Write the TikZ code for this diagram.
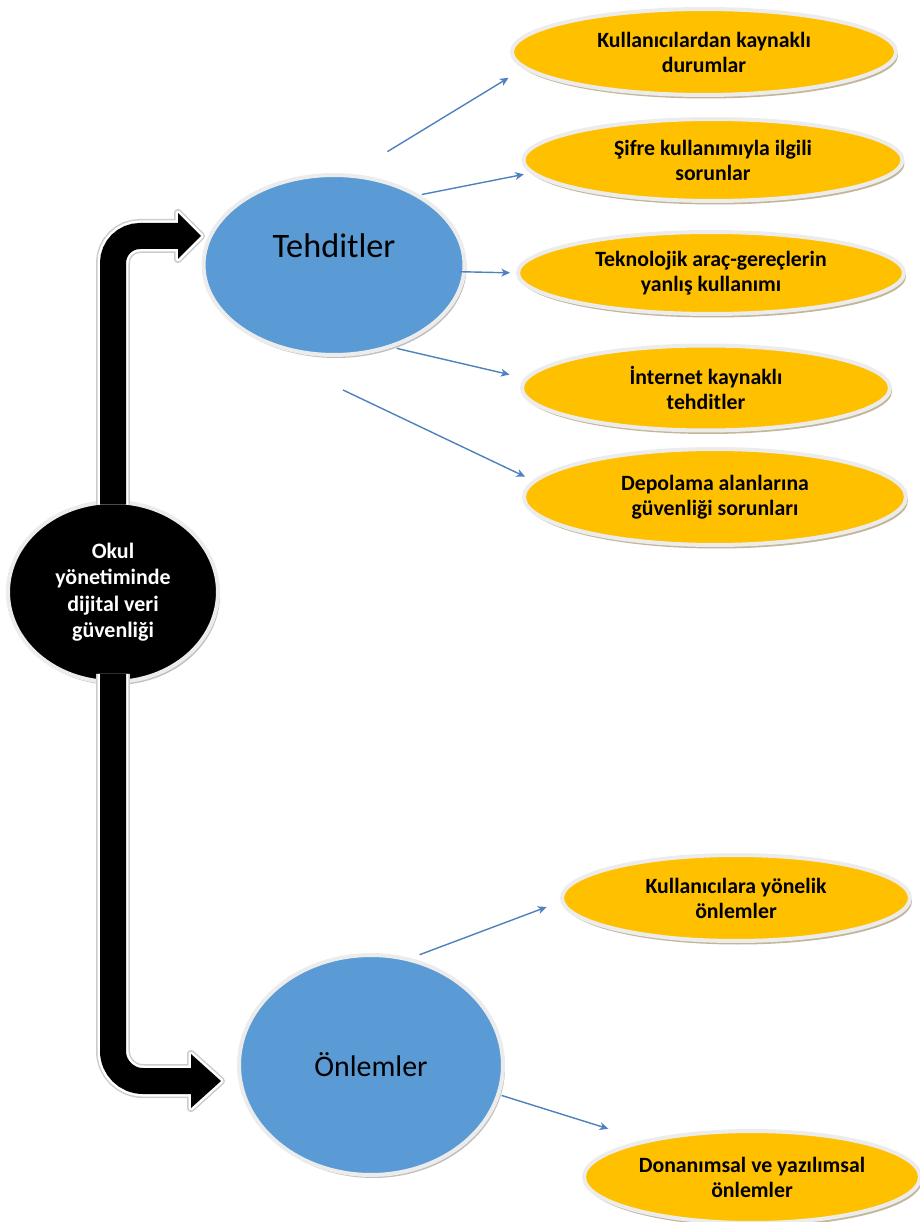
\documentclass[tikz,border=0pt]{standalone}
\usepackage{fontspec}
\setmainfont{Carlito}
\usetikzlibrary{shapes.geometric,shadows,arrows.meta,calc}
\definecolor{skyblue}{HTML}{5B9BD5}
\definecolor{amber}{HTML}{FFC000}
\definecolor{linkblue}{HTML}{4F81BD}
\definecolor{rimgray}{HTML}{ECECEC}
\definecolor{tanshadow}{HTML}{B3A27E}

\begin{document}
\begin{tikzpicture}[x=0.02cm, y=-0.02cm,
  rim/.style={draw=rimgray, line width=0.08cm, outer sep=0pt, inner sep=0pt},
  blackell/.style={ellipse, rim, fill=black, drop shadow={shadow xshift=0.04cm, shadow yshift=-0.06cm, fill=gray, opacity=0.5}},
  blueell/.style={ellipse, rim, fill=skyblue, drop shadow={shadow xshift=0.04cm, shadow yshift=-0.06cm, fill=gray, opacity=0.5}},
  amberell/.style={ellipse, rim, fill=amber, drop shadow={shadow xshift=0.04cm, shadow yshift=-0.07cm, fill=tanshadow, opacity=0.8}},
  amberlbl/.style={font=\bfseries\fontsize{12.4}{14.2}\selectfont, align=center},
  bluelbl/.style={font=\fontsize{19.5}{22}\selectfont},
  link/.style={draw=linkblue, line width=0.8pt, -{Stealth[length=5pt,width=4.5pt,inset=1.5pt]}},
  band/.style={line width=0.52cm, rounded corners=0.54cm},
]
\useasboundingbox (0,0) rectangle (919,1222);

% centre and the two main branches
\node[blackell, minimum width=4.2cm, minimum height=3.6cm, text=white, font=\bfseries\fontsize{12.5}{15.1}\selectfont, align=center] (okul) at (113,592) {Okul\\yönetiminde\\dijital veri\\güvenliği};
\node[blueell, minimum width=5.22cm, minimum height=3.6cm, label={[bluelbl, yshift=0.38cm]center:Tehditler}] (tehdit) at (334,265) {};
\node[blueell, minimum width=5.28cm, minimum height=4.4cm, label={[bluelbl, font=\fontsize{17}{20}\selectfont]center:Önlemler}] (onlem) at (371,1065) {};

% threats
\node[amberell, minimum width=7.68cm, minimum height=1.72cm, label={[amberlbl]center:{Kullanıcılardan kaynaklı\\durumlar}}] (kaynak) at (704,52) {};
\node[amberell, minimum width=7.58cm, minimum height=1.64cm, label={[amberlbl]center:{Şifre kullanımıyla ilgili\\sorunlar}}] (sifre) at (713,160) {};
\node[amberell, minimum width=7.72cm, minimum height=1.64cm, label={[amberlbl]center:{Teknolojik araç-gereçlerin\\yanlış kullanımı}}] (teknoloji) at (711,273) {};
\node[amberell, minimum width=7.36cm, minimum height=1.70cm, label={[amberlbl]center:{İnternet kaynaklı\\tehditler}}] (internet) at (706,388) {};
\node[amberell, minimum width=7.64cm, minimum height=1.92cm, label={[amberlbl]center:{Depolama alanlarına\\güvenliği sorunları}}] (depolama) at (715,497) {};

% measures
\node[amberell, minimum width=6.96cm, minimum height=1.72cm, label={[amberlbl]center:{Kullanıcılara yönelik\\önlemler}}] (kullanici) at (736,898) {};
\node[amberell, minimum width=6.72cm, minimum height=1.84cm, label={[amberlbl]center:{Donanımsal ve yazılımsal\\önlemler}}] (donanim) at (752,1177) {};

% thick black arrows
\coordinate (upbase) at (178,236);
\coordinate (uptip) at (201,236);
\coordinate (dnbase) at (191,1081);
\coordinate (dntip) at (221,1081);

\foreach \bw/\hw/\col in {0.68cm/0.16cm/gray!40, 0.62cm/0.10cm/white} {
  \draw[line width=\bw, draw=\col, rounded corners=0.54cm] ([yshift=-0.05cm]okul.north) |- (upbase);
  \draw[line width=\bw, draw=\col, rounded corners=0.6cm] ([yshift=0.16cm]okul.south) |- (dnbase);
  \filldraw[line width=\hw, draw=\col, fill=\col, line join=round] ($(upbase)+(0,-23)$) -- (uptip) -- ($(upbase)+(0,23)$) -- cycle;
  \filldraw[line width=\hw, draw=\col, fill=\col, line join=round] ($(dnbase)+(0,-27)$) -- (dntip) -- ($(dnbase)+(0,27)$) -- cycle;
}
\draw[band] ([yshift=-0.05cm]okul.north) |- (upbase);
\draw[band, rounded corners=0.6cm] ([yshift=0.16cm]okul.south) |- (dnbase);
\fill ($(upbase)+(0,-23)$) -- (uptip) -- ($(upbase)+(0,23)$) -- cycle;
\fill ($(dnbase)+(0,-27)$) -- (dntip) -- ($(dnbase)+(0,27)$) -- cycle;

% thin connectors
\draw[link, shorten <=0.92cm, shorten >=0.39cm] (tehdit.81) -- (kaynak.185);
\draw[link, shorten <=0.10cm, shorten >=0.18cm] (tehdit.40) -- (sifre.184);
\draw[link, shorten <=-0.09cm, shorten >=0.16cm] (tehdit.357) -- (teknoloji.180);
\draw[link, shorten <=0.16cm, shorten >=0.35cm] (tehdit.304) -- (internet.177);
\draw[link, shorten >=0.21cm] ([shift={(9,35)}]tehdit.south) -- (depolama.175);
\draw[link, shorten <=0.26cm, shorten >=0.34cm] (onlem.71) -- (kullanici.181);
\draw[link, shorten <=0.07cm, shorten >=0.82cm] (onlem.347) -- (donanim.161);
\end{tikzpicture}
\end{document}
